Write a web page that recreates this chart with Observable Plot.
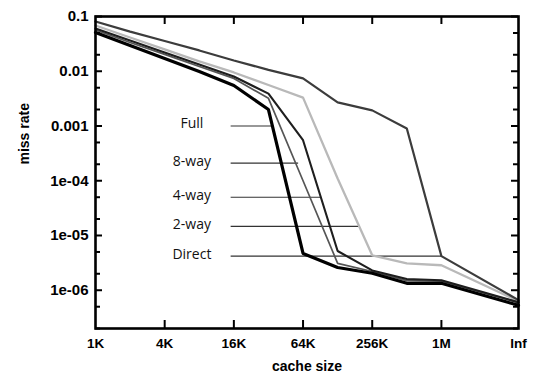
<!DOCTYPE html>
<html><head><meta charset="utf-8">
<script src="https://cdn.jsdelivr.net/npm/d3@7"></script>
<script src="https://cdn.jsdelivr.net/npm/@observablehq/plot@0.6"></script>
<style>html,body{margin:0;padding:0;background:#fff;} #chart{width:533px;height:373px;}</style>
</head><body><div id="chart"></div>
<script>
// Cache sizes (KB); "Inf" placed at the right end of the axis
const cacheSizeLabels = ["1K","2K","4K","8K","16K","32K","64K","128K","256K","512K","1M","Inf"];
const cacheSizeKB = [1,2,4,8,16,32,64,128,256,512,1024,4800];

// Miss rates per organisation
const missDirect = [0.081, 0.053, 0.0357, 0.024, 0.0157, 0.0106, 0.0074, 0.0027, 0.00193, 0.0009, 4.2e-6, 6.6e-7];
const miss2way   = [0.0685, 0.0414, 0.025, 0.0151, 0.0095, 0.0056, 0.0033, 1.1e-4, 4.35e-6, 3.1e-6, 2.86e-6, 6.3e-7];
const miss4way   = [0.0604, 0.0365, 0.022, 0.0133, 0.008, 0.0039, 5.5e-4, 5.2e-6, 2.3e-6, 1.6e-6, 1.52e-6, 6.0e-7];
const miss8way   = [0.0567, 0.0336, 0.0203, 0.0122, 0.0074, 0.0032, 1.0e-4, 3.1e-6, 2.2e-6, 1.5e-6, 1.46e-6, 6.0e-7];
const missFull   = [0.0511, 0.0296, 0.0171, 0.0099, 0.0055, 0.002, 4.7e-6, 2.6e-6, 2.04e-6, 1.34e-6, 1.34e-6, 5.3e-7];

// Tick values and labels
const xTickKB = [1,4,16,64,256,1024,4800];
const xTickLabels = ["1K","4K","16K","64K","256K","1M","Inf"];
const yMajorTicks = [0.1,0.01,0.001,1e-4,1e-5,1e-6];
const yTickLabels = ["0.1","0.01","0.001","1e-04","1e-05","1e-06"];
const yMinorTicks = [0.05,0.02,0.005,0.002,5e-4,2e-4,5e-5,2e-5,5e-6,2e-6,5e-7,2e-7];

// Annotations (data units)
const annotLabels = ["Full","8-way","4-way","2-way","Direct"];
const annotMiss = [1.0e-3, 2.1e-4, 5.0e-5, 1.47e-5, 4.2e-6];
const annotEndKB = [35, 58, 92, 193, 1024];
const annotTextKB = 6.9;
const annotStartKB = 15;

const W = 533, H = 373, mL = 95, mR = 15, mT = 16, mB = 45;
const plotW = W - mL - mR, plotH = H - mT - mB;

const toRows = vals => vals.map((v, i) => ({kb: cacheSizeKB[i], miss: v, size: cacheSizeLabels[i]}));
const series = [
  {vals: miss2way, stroke: "#b9b9b9", sw: 2.3},
  {vals: missDirect, stroke: "#3c3c3c", sw: 2.2},
  {vals: miss8way, stroke: "#555555", sw: 1.7},
  {vals: miss4way, stroke: "#1e1e1e", sw: 2.1},
  {vals: missFull, stroke: "#000000", sw: 3.2}
];
const annots = annotLabels.map((t, i) => ({t, y: annotMiss[i], x2: annotEndKB[i]}));
const xLab = new Map(xTickKB.map((d, i) => [d, xTickLabels[i]]));
const yLab = new Map(yMajorTicks.map((d, i) => [d, yTickLabels[i]]));
const F = "Liberation Sans, Arial, sans-serif";
const TK = "#000";
const innerX = xTickKB.slice(1, -1);

const chart = Plot.plot({
  width: W, height: H,
  marginLeft: mL, marginRight: mR, marginTop: mT, marginBottom: mB,
  x: {type: "log", base: 2, domain: [1, 4800], label: null},
  y: {type: "log", domain: [2e-7, 0.1], label: null},
  style: {background: "#fff", color: "#000", fontFamily: F},
  marks: [
    Plot.link(annots, {x1: annotStartKB, x2: "x2", y1: "y", y2: "y", stroke: "#333", strokeWidth: 1.1}),
    Plot.text(annots, {x: annotTextKB, y: "y", text: "t", fontFamily: "Open Sans, sans-serif", fontSize: 14, fill: "#111", dy: -2}),
    ...series.map(s => Plot.line(toRows(s.vals), {x: "kb", y: "miss", stroke: s.stroke, strokeWidth: s.sw, strokeLinejoin: "miter"})),
    Plot.frame({stroke: "#000", strokeWidth: 2.6}),
    Plot.ruleY(yMajorTicks, {y: d => d, insetRight: plotW - 7, stroke: TK, strokeWidth: 2}),
    Plot.ruleY(yMajorTicks, {y: d => d, insetLeft: plotW - 7, stroke: TK, strokeWidth: 2}),
    Plot.ruleY(yMinorTicks, {y: d => d, insetRight: plotW - 5, stroke: TK, strokeWidth: 2}),
    Plot.ruleY(yMinorTicks, {y: d => d, insetLeft: plotW - 5, stroke: TK, strokeWidth: 2}),
    Plot.ruleX(innerX, {x: d => d, insetTop: plotH - 8, stroke: TK, strokeWidth: 2}),
    Plot.ruleX(innerX, {x: d => d, insetBottom: plotH - 8, stroke: TK, strokeWidth: 2}),
    Plot.axisY({ticks: yMajorTicks, tickFormat: d => yLab.get(d), tickSize: 0, tickPadding: 7, fontSize: 15, fontWeight: "bold", fontFamily: F}),
    Plot.axisX({ticks: xTickKB, tickFormat: d => xLab.get(d), tickSize: 0, tickPadding: 10, fontSize: 13.5, fontWeight: "bold", fontFamily: F}),
    Plot.text(["miss rate"], {frameAnchor: "left", rotate: -90, dx: -71, dy: -8, fontSize: 14, fontWeight: "bold", fontFamily: F}),
    Plot.text(["cache size"], {frameAnchor: "bottom", dy: 42, fontSize: 14, fontWeight: "bold", fontFamily: F})
  ]
});
document.getElementById("chart").appendChild(chart);
</script>
</body></html>
